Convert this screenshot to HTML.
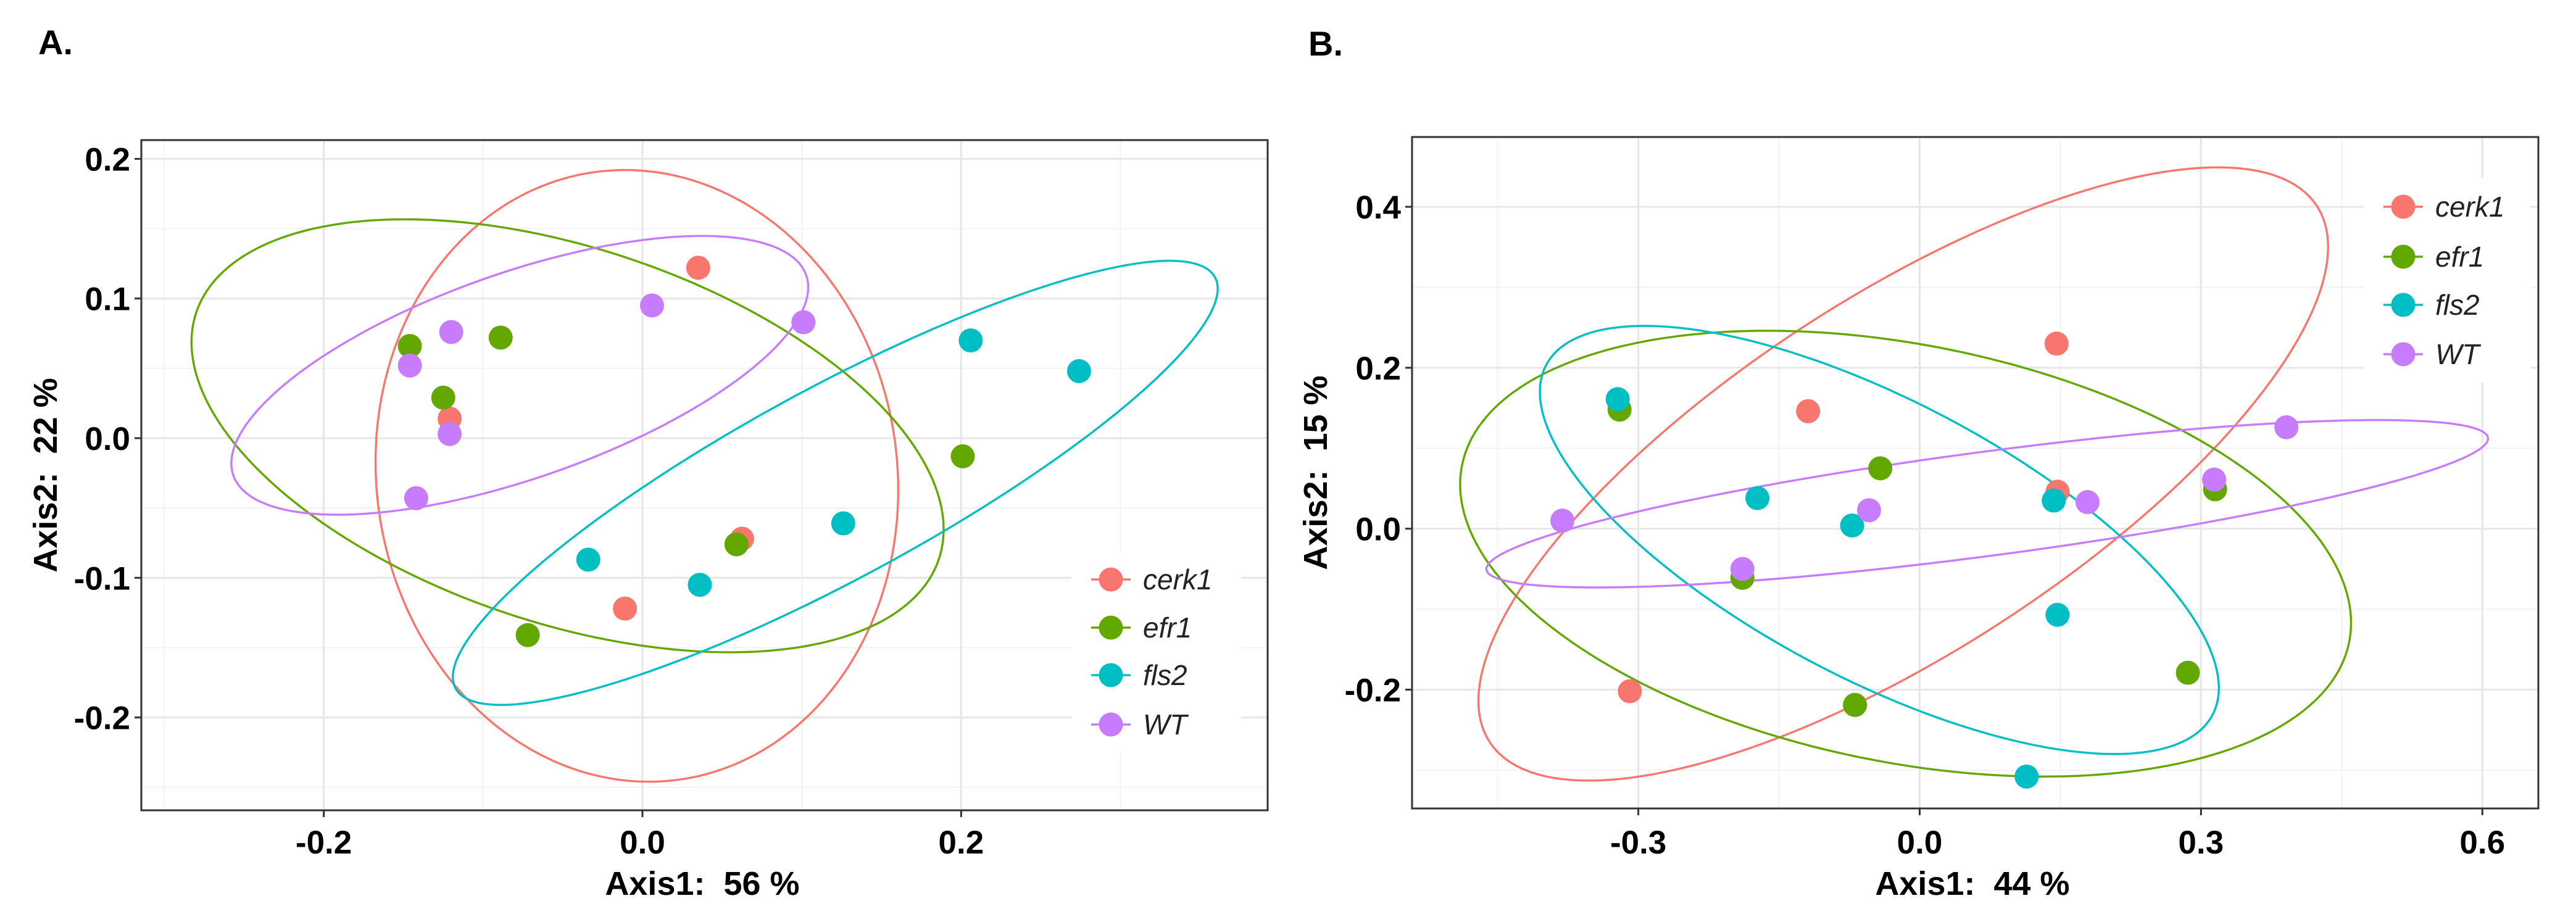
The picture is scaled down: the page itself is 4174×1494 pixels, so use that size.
<!DOCTYPE html>
<html><head><meta charset="utf-8">
<style>
html,body{margin:0;padding:0;background:#fff;}
svg{display:block;font-family:"Liberation Sans",Arial,sans-serif;}
svg text{white-space:pre;}
</style></head>
<body>
<svg id="fig" width="4174" height="1494" viewBox="0 0 4174 1494" xmlns="http://www.w3.org/2000/svg">
<rect x="0" y="0" width="4174" height="1494" fill="#fff"/>
<text x="62" y="88" font-size="56" font-weight="bold" fill="#000">A.</text>
<text x="2120" y="90" font-size="56" font-weight="bold" fill="#000">B.</text>
</svg>
<script>
// ===== Panel A data =====
const groups = ["cerk1","efr1","fls2","WT"];
const colors = ["#F8766D","#62A800","#00BFC4","#C77CFF"];
const aCerk1X = [0.035,-0.121,0.0625,-0.011];
const aCerk1Y = [0.122,0.014,-0.072,-0.122];
const aEfr1X = [-0.146,-0.089,-0.125,0.059,0.201,-0.072];
const aEfr1Y = [0.066,0.072,0.029,-0.076,-0.013,-0.141];
const aFls2X = [0.206,0.274,0.126,-0.034,0.036];
const aFls2Y = [0.070,0.048,-0.061,-0.087,-0.105];
const aWTX = [-0.146,-0.120,0.006,0.101,-0.121,-0.142];
const aWTY = [0.052,0.076,0.095,0.083,0.003,-0.043];
// ellipses: center x, center y, half-width, half-height, y-offset of rightmost point
const aEllCx = [-0.0035,-0.047,0.121,-0.077];
const aEllCy = [-0.027,0.0017,-0.032,0.045];
const aEllW = [0.164,0.236,0.240,0.181];
const aEllH = [0.219,0.155,0.159,0.0998];
const aEllD = [-0.01,-0.067,0.139,0.063];
const aXTicks = [-0.2,0.0,0.2];
const aXTickLabels = ["-0.2","0.0","0.2"];
const aYTicks = [-0.2,-0.1,0.0,0.1,0.2];
const aYTickLabels = ["-0.2","-0.1","0.0","0.1","0.2"];
const aXMinor = [-0.3,-0.1,0.1,0.3];
const aYMinor = [-0.25,-0.15,-0.05,0.05,0.15];

// ===== Panel B data =====
const bCerk1X = [0.146,-0.119,0.147,-0.309];
const bCerk1Y = [0.230,0.146,0.046,-0.202];
const bEfr1X = [-0.320,-0.042,-0.189,0.315,0.286,-0.069];
const bEfr1Y = [0.148,0.075,-0.061,0.049,-0.179,-0.219];
const bFls2X = [-0.322,-0.173,-0.072,0.143,0.147,0.114];
const bFls2Y = [0.161,0.038,0.004,0.035,-0.107,-0.308];
const bWTX = [-0.381,-0.054,-0.189,0.179,0.314,0.391];
const bWTY = [0.010,0.023,-0.050,0.033,0.061,0.126];
const bEllCx = [-0.0175,-0.015,-0.043,0.072];
const bEllCy = [0.068,-0.031,-0.014,0.031];
const bEllW = [0.453,0.475,0.362,0.534];
const bEllH = [0.381,0.277,0.266,0.104];
const bEllD = [0.282,-0.086,-0.184,0.081];
const bXTicks = [-0.3,0.0,0.3,0.6];
const bXTickLabels = ["-0.3","0.0","0.3","0.6"];
const bYTicks = [-0.2,0.0,0.2,0.4];
const bYTickLabels = ["-0.2","0.0","0.2","0.4"];
const bXMinor = [-0.45,-0.15,0.15,0.45];
const bYMinor = [-0.3,-0.1,0.1,0.3];

const NS = "http://www.w3.org/2000/svg";
const svg = document.getElementById("fig");
function mk(tag, attrs, parent){
  const e = document.createElementNS(NS, tag);
  for (const k in attrs) e.setAttribute(k, attrs[k]);
  (parent||svg).appendChild(e);
  return e;
}

function drawPanel(P){
  const g = mk("g", {});
  
  
  const sx = v => P.x0 + v * P.kx;
  const sy = v => P.y0 - v * P.ky;
  P.xMinor.forEach(v => {
    const l = mk("line", {x1:sx(v), x2:sx(v), y1:P.top, y2:P.bottom, stroke:"#f2f2f2", "stroke-width":2}, g);
    
    
  });
  P.yMinor.forEach(v => {
    const l = mk("line", {x1:P.left, x2:P.right, y1:sy(v), y2:sy(v), stroke:"#f2f2f2", "stroke-width":2}, g);
    
    
  });
  P.xTicks.forEach(v => {
    const l = mk("line", {x1:sx(v), x2:sx(v), y1:P.top, y2:P.bottom, stroke:"#e6e6e6", "stroke-width":3}, g);
    
    
  });
  P.yTicks.forEach(v => {
    const l = mk("line", {x1:P.left, x2:P.right, y1:sy(v), y2:sy(v), stroke:"#e6e6e6", "stroke-width":3}, g);
    
    
  });
  const lb = mk("rect", {x:P.legX-64, y:P.legY[0]-46, width:P.legW, height:P.legY[3]-P.legY[0]+92, fill:"#fff"}, g);
  
  
  for (let i = 0; i < 4; i++){
    const cx = P.ecx[i], cy = P.ecy[i], w = P.ew[i], h = P.eh[i], d = P.ed[i];
    const s = Math.sqrt(Math.max(h*h - d*d, 0));
    let path = "";
    for (let t = 0; t <= 240; t++){
      const th = t / 240 * Math.PI * 2;
      const x = cx + w * Math.cos(th);
      const y = cy + d * Math.cos(th) + s * Math.sin(th);
      path += (t ? "L" : "M") + sx(x).toFixed(1) + "," + sy(y).toFixed(1);
    }
    const e = mk("path", {d:path + "Z", fill:"none", stroke:colors[i], "stroke-width":3.4}, g);
    
    
  }
  for (let i = 0; i < 4; i++){
    const xs = P.xs[i], ys = P.ys[i];
    for (let j = 0; j < xs.length; j++){
      const c = mk("circle", {cx:sx(xs[j]), cy:sy(ys[j]), r:19.5, fill:colors[i]}, g);
      
      
    }
  }
  const b = mk("rect", {x:P.left, y:P.top, width:P.right-P.left, height:P.bottom-P.top, fill:"none", stroke:"#333", "stroke-width":3}, g);
  
  
  P.xTicks.forEach((v, i) => {
    const t = mk("line", {x1:sx(v), x2:sx(v), y1:P.bottom, y2:P.bottom+11, stroke:"#333", "stroke-width":3}, g);
    
    
    const tx = mk("text", {x:sx(v), y:1383, "font-size":53, "font-weight":"bold", "text-anchor":"middle", fill:"#000"}, g);
    tx.textContent = P.xLabels[i];
    
    
  });
  P.yTicks.forEach((v, i) => {
    const t = mk("line", {x1:P.left-11, x2:P.left, y1:sy(v), y2:sy(v), stroke:"#333", "stroke-width":3}, g);
    
    
    const tx = mk("text", {x:P.left-18, y:sy(v)+19, "font-size":53, "font-weight":"bold", "text-anchor":"end", fill:"#000"}, g);
    tx.textContent = P.yLabels[i];
    
    
  });
  const xt = mk("text", {x:P.xTitleX, y:1450, "font-size":54, "font-weight":"bold", "text-anchor":"middle", fill:"#000"}, g);
  xt.textContent = P.xTitle;
  
  
  const yc = (P.top + P.bottom) / 2;
  const yt = mk("text", {x:P.yTitleX, y:yc, "font-size":54, "font-weight":"bold", "text-anchor":"middle", fill:"#000", transform:"rotate(-90 " + P.yTitleX + " " + yc + ")"}, g);
  yt.textContent = P.yTitle;
  
  
  for (let i = 0; i < 4; i++){
    const ly = P.legY[i];
    const ln = mk("line", {x1:P.legX-32, x2:P.legX+32, y1:ly, y2:ly, stroke:colors[i], "stroke-width":3.4}, g);
    
    
    const c = mk("circle", {cx:P.legX, cy:ly, r:19.5, fill:colors[i]}, g);
    
    
    const t = mk("text", {x:P.legX+52, y:ly+16, "font-size":46, "font-style":"italic", fill:"#222"}, g);
    t.textContent = groups[i];
    
    
  }
}

drawPanel({
  id:"panel-a", left:229, right:2054, top:227, bottom:1313,
  x0:1041, kx:2582, y0:710, ky:2263,
  xs:[aCerk1X,aEfr1X,aFls2X,aWTX], ys:[aCerk1Y,aEfr1Y,aFls2Y,aWTY],
  ecx:aEllCx, ecy:aEllCy, ew:aEllW, eh:aEllH, ed:aEllD,
  xTicks:aXTicks, xLabels:aXTickLabels, yTicks:aYTicks, yLabels:aYTickLabels,
  xMinor:aXMinor, yMinor:aYMinor,
  xTitle:"Axis1:  56 %", yTitle:"Axis2:  22 %", xTitleX:1138, yTitleX:92,
  legX:1800, legY:[939,1017,1094,1174], legW:275
});
drawPanel({
  id:"panel-b", left:2288, right:4113, top:222, bottom:1310,
  x0:3110.5, kx:1519.6, y0:856.7, ky:1304,
  xs:[bCerk1X,bEfr1X,bFls2X,bWTX], ys:[bCerk1Y,bEfr1Y,bFls2Y,bWTY],
  ecx:bEllCx, ecy:bEllCy, ew:bEllW, eh:bEllH, ed:bEllD,
  xTicks:bXTicks, xLabels:bXTickLabels, yTicks:bYTicks, yLabels:bYTickLabels,
  xMinor:bXMinor, yMinor:bYMinor,
  xTitle:"Axis1:  44 %", yTitle:"Axis2:  15 %", xTitleX:3196, yTitleX:2150,
  legX:3894, legY:[335,416,494,574], legW:270
});
</script>
</body></html>
